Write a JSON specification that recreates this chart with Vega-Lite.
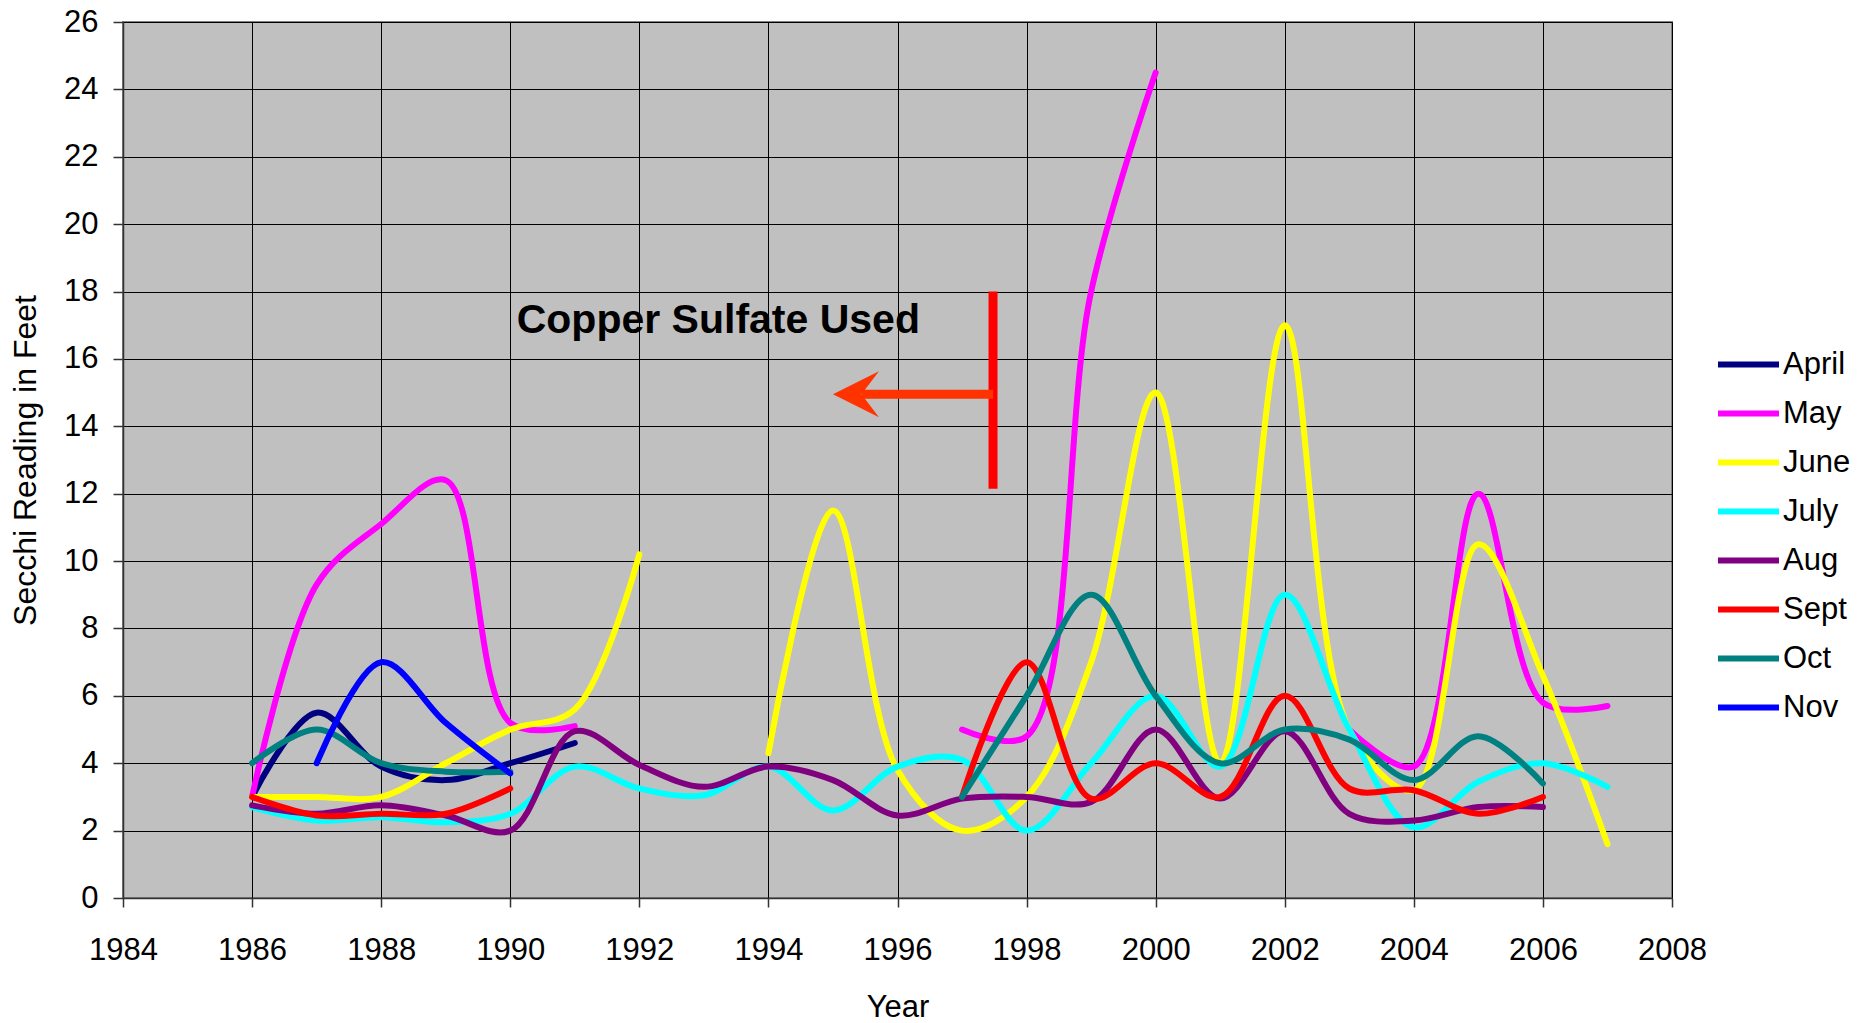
{
  "$schema": "https://vega.github.io/schema/vega-lite/v6.json",
  "width": 1549,
  "height": 876,
  "autosize": {"type": "none"},
  "padding": {"left": 123, "top": 22, "right": 203, "bottom": 125},
  "background": "white",
  "config": {
    "font": "Liberation Sans",
    "view": {"fill": "#C0C0C0", "stroke": "#808080", "strokeWidth": 2},
    "axis": {
      "gridColor": "#000000", "gridWidth": 1, "gridOpacity": 1,
      "domainColor": "#333333", "domainWidth": 1.5,
      "tickColor": "#333333", "tickWidth": 1.5,
      "labelColor": "#000000", "titleColor": "#000000",
      "labelFont": "Liberation Sans", "titleFont": "Liberation Sans",
      "titleFontWeight": "normal", "labelFontSize": 31, "titleFontSize": 31
    }
  },
  "datasets": {
    "secchi": [
      {"month": "April", "year": 1986, "feet": 3.0},
      {"month": "April", "year": 1987, "feet": 5.5},
      {"month": "April", "year": 1988, "feet": 3.9},
      {"month": "April", "year": 1989, "feet": 3.5},
      {"month": "April", "year": 1990, "feet": 4.0},
      {"month": "April", "year": 1991, "feet": 4.6},
      {"month": "May", "year": 1986, "feet": 3.0},
      {"month": "May", "year": 1987, "feet": 9.3},
      {"month": "May", "year": 1988, "feet": 11.1},
      {"month": "May", "year": 1989, "feet": 12.4},
      {"month": "May", "year": 1990, "feet": 5.2},
      {"month": "May", "year": 1991, "feet": 5.1},
      {"month": "May", "year": 1992, "feet": null},
      {"month": "May", "year": 1997, "feet": 5.0},
      {"month": "May", "year": 1998, "feet": 4.8},
      {"month": "May", "year": 1999, "feet": 18.0},
      {"month": "May", "year": 2000, "feet": 24.5},
      {"month": "May", "year": 2001, "feet": null},
      {"month": "May", "year": 2003, "feet": 5.0},
      {"month": "May", "year": 2004, "feet": 3.9},
      {"month": "May", "year": 2005, "feet": 12.0},
      {"month": "May", "year": 2006, "feet": 5.8},
      {"month": "May", "year": 2007, "feet": 5.7},
      {"month": "June", "year": 1986, "feet": 3.0},
      {"month": "June", "year": 1987, "feet": 3.0},
      {"month": "June", "year": 1988, "feet": 3.0},
      {"month": "June", "year": 1989, "feet": 4.0},
      {"month": "June", "year": 1990, "feet": 5.0},
      {"month": "June", "year": 1991, "feet": 5.6},
      {"month": "June", "year": 1992, "feet": 10.2},
      {"month": "June", "year": 1993, "feet": null},
      {"month": "June", "year": 1994, "feet": 4.3},
      {"month": "June", "year": 1995, "feet": 11.5},
      {"month": "June", "year": 1996, "feet": 3.8},
      {"month": "June", "year": 1997, "feet": 2.0},
      {"month": "June", "year": 1998, "feet": 3.0},
      {"month": "June", "year": 1999, "feet": 7.0},
      {"month": "June", "year": 2000, "feet": 15.0},
      {"month": "June", "year": 2001, "feet": 4.0},
      {"month": "June", "year": 2002, "feet": 17.0},
      {"month": "June", "year": 2003, "feet": 5.0},
      {"month": "June", "year": 2004, "feet": 3.2},
      {"month": "June", "year": 2005, "feet": 10.5},
      {"month": "June", "year": 2006, "feet": 6.6},
      {"month": "June", "year": 2007, "feet": 1.6},
      {"month": "July", "year": 1986, "feet": 2.7},
      {"month": "July", "year": 1987, "feet": 2.3},
      {"month": "July", "year": 1988, "feet": 2.4},
      {"month": "July", "year": 1989, "feet": 2.25},
      {"month": "July", "year": 1990, "feet": 2.5},
      {"month": "July", "year": 1991, "feet": 3.9},
      {"month": "July", "year": 1992, "feet": 3.25},
      {"month": "July", "year": 1993, "feet": 3.05},
      {"month": "July", "year": 1994, "feet": 3.9},
      {"month": "July", "year": 1995, "feet": 2.6},
      {"month": "July", "year": 1996, "feet": 3.9},
      {"month": "July", "year": 1997, "feet": 4.1},
      {"month": "July", "year": 1998, "feet": 2.0},
      {"month": "July", "year": 1999, "feet": 4.0},
      {"month": "July", "year": 2000, "feet": 6.0},
      {"month": "July", "year": 2001, "feet": 3.9},
      {"month": "July", "year": 2002, "feet": 9.0},
      {"month": "July", "year": 2003, "feet": 5.0},
      {"month": "July", "year": 2004, "feet": 2.1},
      {"month": "July", "year": 2005, "feet": 3.45},
      {"month": "July", "year": 2006, "feet": 4.0},
      {"month": "July", "year": 2007, "feet": 3.3},
      {"month": "Aug", "year": 1986, "feet": 2.75},
      {"month": "Aug", "year": 1987, "feet": 2.5},
      {"month": "Aug", "year": 1988, "feet": 2.75},
      {"month": "Aug", "year": 1989, "feet": 2.45},
      {"month": "Aug", "year": 1990, "feet": 2.0},
      {"month": "Aug", "year": 1991, "feet": 4.95},
      {"month": "Aug", "year": 1992, "feet": 3.95},
      {"month": "Aug", "year": 1993, "feet": 3.3},
      {"month": "Aug", "year": 1994, "feet": 3.9},
      {"month": "Aug", "year": 1995, "feet": 3.5},
      {"month": "Aug", "year": 1996, "feet": 2.45},
      {"month": "Aug", "year": 1997, "feet": 2.95},
      {"month": "Aug", "year": 1998, "feet": 3.0},
      {"month": "Aug", "year": 1999, "feet": 2.85},
      {"month": "Aug", "year": 2000, "feet": 5.0},
      {"month": "Aug", "year": 2001, "feet": 2.95},
      {"month": "Aug", "year": 2002, "feet": 4.95},
      {"month": "Aug", "year": 2003, "feet": 2.5},
      {"month": "Aug", "year": 2004, "feet": 2.3},
      {"month": "Aug", "year": 2005, "feet": 2.7},
      {"month": "Aug", "year": 2006, "feet": 2.7},
      {"month": "Sept", "year": 1986, "feet": 3.0},
      {"month": "Sept", "year": 1987, "feet": 2.45},
      {"month": "Sept", "year": 1988, "feet": 2.5},
      {"month": "Sept", "year": 1989, "feet": 2.5},
      {"month": "Sept", "year": 1990, "feet": 3.25},
      {"month": "Sept", "year": 1991, "feet": null},
      {"month": "Sept", "year": 1997, "feet": 3.0},
      {"month": "Sept", "year": 1998, "feet": 7.0},
      {"month": "Sept", "year": 1999, "feet": 2.95},
      {"month": "Sept", "year": 2000, "feet": 4.0},
      {"month": "Sept", "year": 2001, "feet": 3.0},
      {"month": "Sept", "year": 2002, "feet": 6.0},
      {"month": "Sept", "year": 2003, "feet": 3.25},
      {"month": "Sept", "year": 2004, "feet": 3.2},
      {"month": "Sept", "year": 2005, "feet": 2.5},
      {"month": "Sept", "year": 2006, "feet": 3.0},
      {"month": "Oct", "year": 1986, "feet": 4.0},
      {"month": "Oct", "year": 1987, "feet": 5.0},
      {"month": "Oct", "year": 1988, "feet": 4.0},
      {"month": "Oct", "year": 1989, "feet": 3.75},
      {"month": "Oct", "year": 1990, "feet": 3.75},
      {"month": "Oct", "year": 1991, "feet": null},
      {"month": "Oct", "year": 1997, "feet": 3.0},
      {"month": "Oct", "year": 1998, "feet": 6.0},
      {"month": "Oct", "year": 1999, "feet": 9.0},
      {"month": "Oct", "year": 2000, "feet": 6.0},
      {"month": "Oct", "year": 2001, "feet": 4.0},
      {"month": "Oct", "year": 2002, "feet": 5.0},
      {"month": "Oct", "year": 2003, "feet": 4.7},
      {"month": "Oct", "year": 2004, "feet": 3.5},
      {"month": "Oct", "year": 2005, "feet": 4.8},
      {"month": "Oct", "year": 2006, "feet": 3.4},
      {"month": "Nov", "year": 1987, "feet": 4.0},
      {"month": "Nov", "year": 1988, "feet": 7.0},
      {"month": "Nov", "year": 1989, "feet": 5.2},
      {"month": "Nov", "year": 1990, "feet": 3.7}
    ],
    "note": [{"year": 1990.1, "feet": 16.77, "label": "Copper Sulfate Used"}],
    "bar": [{"year": 1997.48, "feet": 12.15, "feet2": 18.0}],
    "shaft": [{"year": 1995.45, "year2": 1997.48, "feet": 14.95}],
    "head": [{"year": 1995.0, "feet": 14.95}]
  },
  "encoding": {
    "x": {
      "field": "year", "type": "quantitative",
      "scale": {"domain": [1984, 2008], "nice": false, "zero": false},
      "axis": {
        "title": "Year", "format": "d",
        "values": [1984, 1986, 1988, 1990, 1992, 1994, 1996, 1998, 2000, 2002, 2004, 2006, 2008],
        "tickSize": 9, "labelPadding": 28, "titleY": 94, "grid": true,
        "labelFlush": false, "labelOverlap": false
      }
    },
    "y": {
      "field": "feet", "type": "quantitative",
      "scale": {"domain": [0, 26], "nice": false},
      "axis": {
        "title": "Secchi Reading in Feet",
        "values": [0, 2, 4, 6, 8, 10, 12, 14, 16, 18, 20, 22, 24, 26],
        "tickSize": 10, "labelPadding": 15, "titleFontSize": 32,
        "titleX": -88, "titleY": 438, "titleBaseline": "alphabetic", "grid": true,
        "labelFlush": false, "labelOverlap": false
      }
    }
  },
  "layer": [
    {
      "data": {"name": "secchi"},
      "mark": {"type": "line", "interpolate": "catmull-rom", "strokeWidth": 6, "strokeCap": "round", "strokeJoin": "round", "invalid": "break-paths-show-domains"},
      "encoding": {
        "color": {
          "field": "month", "type": "nominal",
          "scale": {
            "domain": ["April", "May", "June", "July", "Aug", "Sept", "Oct", "Nov"],
            "range": ["#000080", "#FF00FF", "#FFFF00", "#00FFFF", "#800080", "#FF0000", "#008080", "#0000FF"]
          },
          "legend": {
            "title": null, "orient": "none", "legendX": 1592, "legendY": 309,
            "symbolType": "stroke", "symbolSize": 3721, "symbolStrokeWidth": 6,
            "labelFontSize": 31, "labelFont": "Liberation Sans", "labelColor": "#000000",
            "labelOffset": 1, "rowPadding": -11.3, "padding": 0, "labelLimit": 0
          }
        }
      }
    },
    {
      "data": {"name": "note"},
      "mark": {"type": "text", "align": "left", "baseline": "alphabetic", "fontSize": 41, "fontWeight": "bold", "color": "#000000", "font": "Liberation Sans"},
      "encoding": {"text": {"field": "label"}}
    },
    {
      "data": {"name": "bar"},
      "mark": {"type": "rule", "color": "#FF0000", "strokeWidth": 9, "strokeCap": "butt"},
      "encoding": {"y2": {"field": "feet2"}}
    },
    {
      "data": {"name": "shaft"},
      "mark": {"type": "rule", "color": "#FF3300", "strokeWidth": 9, "strokeCap": "butt"},
      "encoding": {"x2": {"field": "year2"}}
    },
    {
      "data": {"name": "head"},
      "mark": {"type": "point", "shape": "M0,0L2,-1L1.24,0L2,1Z", "filled": true, "color": "#FF3300", "size": 2116, "opacity": 1, "strokeWidth": 0},
      "encoding": {}
    }
  ]
}
